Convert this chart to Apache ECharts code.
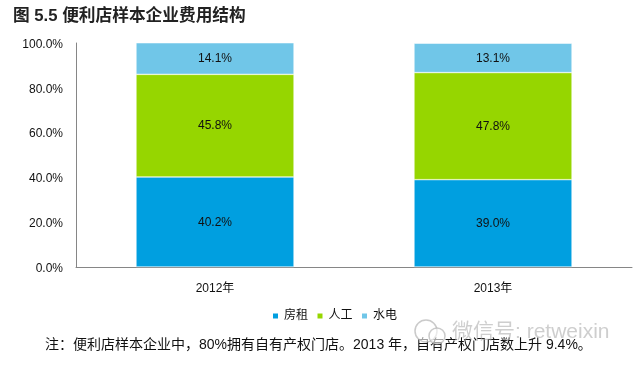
<!DOCTYPE html>
<html><head><meta charset="utf-8">
<style>html,body{margin:0;padding:0;background:#fff}#c{width:634px;height:365px}</style>
<script src="https://cdn.jsdelivr.net/npm/echarts@6/dist/echarts.min.js"></script>
</head><body><div id="c"></div>
<script>
const categories = ['2012年','2013年'];
const rent = [40.2,39.0];
const labor = [45.8,47.8];
const utilities = [14.1,13.1];
const seriesNames = ['房租','人工','水电'];
const colors = ['#009fe0','#96d600','#70c6e8'];
const titleText = '图 5.5 便利店样本企业费用结构';
const noteText = '注：便利店样本企业中，80%拥有自有产权门店。2013 年，自有产权门店数上升 9.4%。';
const watermark = '微信号: retweixin';
const font = '"Liberation Sans","Noto Sans CJK SC",sans-serif';
const mk = (name,data,color)=>({name,type:'bar',stack:'a',data,barWidth:158,
  itemStyle:{color,borderColor:'#fff',borderWidth:0.5},
  label:{show:true,position:'inside',offset:[0,0.5],formatter:p=>p.value.toFixed(1)+'%',color:'#111',fontSize:12,fontFamily:font}});
const chart = echarts.init(document.getElementById('c'),null,{renderer:'canvas'});
chart.setOption({
  animation:false,
  title:{text:titleText,left:8,top:3,padding:5,textStyle:{fontSize:16.7,fontWeight:'bold',color:'#222',fontFamily:font}},
  grid:{left:76,right:2,top:43,bottom:98},
  legend:{top:305,left:266,itemWidth:7,itemHeight:7,itemGap:7.5,icon:'rect',
    data:seriesNames,textStyle:{fontSize:12,color:'#111',fontFamily:font}},
  xAxis:{type:'category',data:categories,
    axisLine:{lineStyle:{color:'#868686',width:1}},axisTick:{show:false},
    axisLabel:{fontSize:12,color:'#111',margin:16,fontFamily:font}},
  yAxis:{type:'value',min:0,max:100,interval:20,
    axisLine:{show:true,lineStyle:{color:'#868686',width:1}},axisTick:{show:false},splitLine:{show:false},
    axisLabel:{margin:13,formatter:v=>'{a|'+v.toFixed(1)+'%}',
      rich:{a:{fontSize:12,color:'#111',fontFamily:font,padding:[3,0,0,0]}}}},
  series:[mk(seriesNames[0],rent,colors[0]),mk(seriesNames[1],labor,colors[1]),mk(seriesNames[2],utilities,colors[2])],
  graphic:[
    {type:'text',left:45,top:338,z:10,style:{text:noteText,fill:'#111',font:'14px '+font}},
    {type:'text',left:452,top:322,z:11,style:{text:watermark,fill:'rgba(165,165,165,0.55)',font:'21px '+font}},
    {type:'circle',z:11,shape:{cx:426,cy:331,r:11},style:{fill:'rgba(255,255,255,0.6)',stroke:'rgba(180,180,180,0.7)',lineWidth:1.5}},
    {type:'circle',z:11,shape:{cx:437,cy:336,r:8},style:{fill:'rgba(255,255,255,0.6)',stroke:'rgba(180,180,180,0.7)',lineWidth:1.5}}
  ]
});
</script></body></html>
